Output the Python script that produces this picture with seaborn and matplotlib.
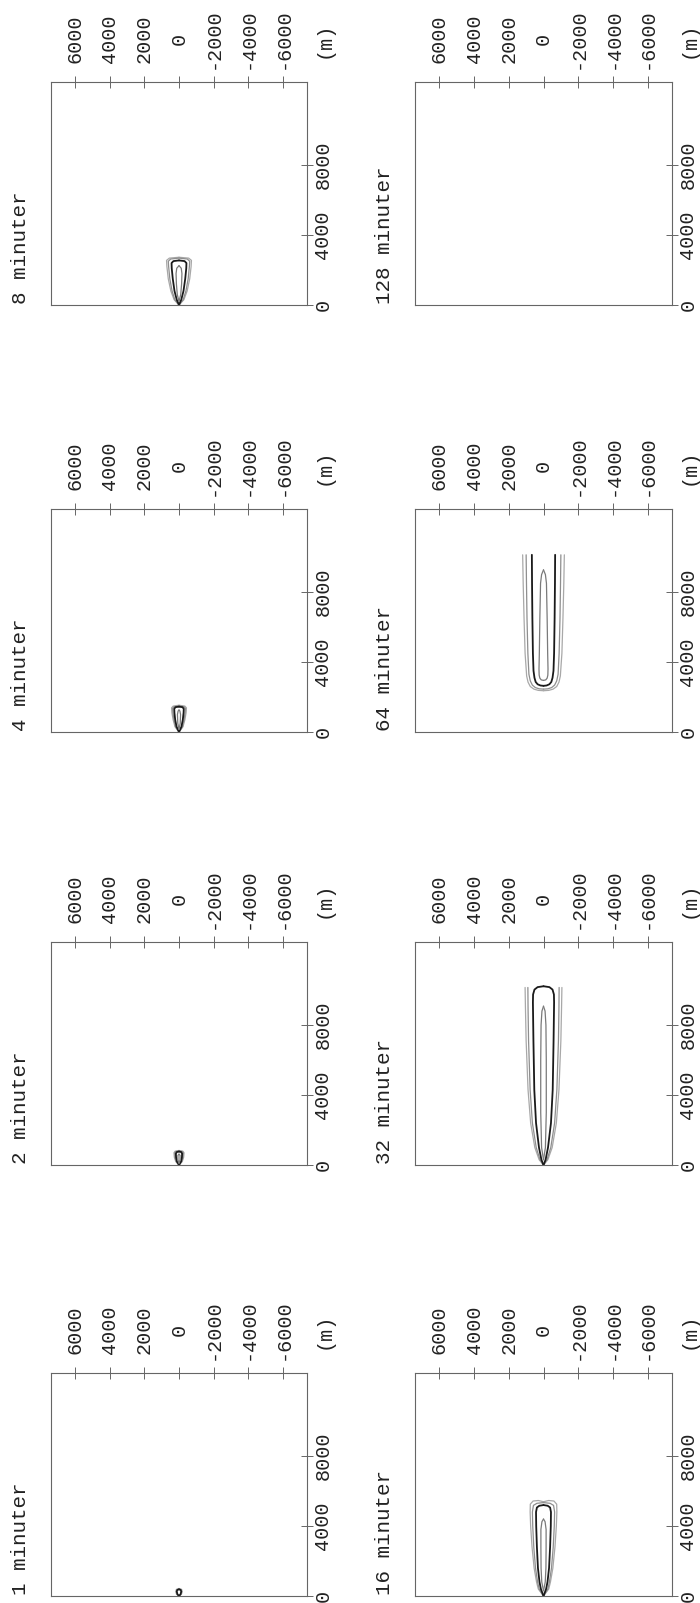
import numpy as np
import pandas as pd
import matplotlib
matplotlib.use("Agg")
import matplotlib.pyplot as plt
import seaborn as sns

# panel titles, left column (top to bottom) then right column
titles_left = ["8 minuter", "4 minuter", "2 minuter", "1 minuter"]
titles_right = ["128 minuter", "64 minuter", "32 minuter", "16 minuter"]

# axis ticks (crosswind on top, downwind on the right), metres
cross_ticks = [6000, 4000, 2000, 0, -2000, -4000, -6000]
cross_labels = ["6000", "4000", "2000", "0", "-2000", "-4000", "-6000"]
down_ticks = [0, 4000, 8000]
down_labels = ["0", "4000", "8000"]

# contour outlines: (level, downwind distance m, half width m)
plume_1 = [
    ("outer", [0, 100, 250, 380, 430], [0, 140, 190, 150, 0]),
    ("black", [0, 100, 250, 350, 380], [0, 90, 130, 100, 0]),
]
plume_2 = [
    ("outer", [0, 200, 450, 700, 790, 830], [0, 190, 270, 290, 220, 0]),
    ("second", [0, 200, 450, 680, 770, 800], [0, 160, 230, 250, 190, 0]),
    ("black", [0, 200, 450, 650, 740, 770], [0, 120, 170, 180, 130, 0]),
    ("inner", [100, 300, 550, 620], [0, 60, 60, 0]),
]
plume_4 = [
    ("outer", [0, 300, 700, 1100, 1380, 1480, 1530], [0, 230, 340, 410, 430, 340, 0]),
    ("second", [0, 300, 700, 1100, 1350, 1450, 1490], [0, 200, 295, 355, 370, 290, 0]),
    ("black", [0, 300, 700, 1100, 1330, 1420, 1450], [0, 140, 220, 265, 275, 200, 0]),
    ("inner", [150, 500, 1000, 1200, 1260], [0, 70, 90, 50, 0]),
]
plume_8 = [
    ("outer", [0, 300, 800, 1500, 2200, 2550, 2680, 2730], [0, 280, 470, 620, 700, 720, 560, 0]),
    ("second", [0, 300, 800, 1500, 2200, 2500, 2630, 2680], [0, 240, 400, 530, 600, 620, 480, 0]),
    ("black", [0, 300, 800, 1500, 2100, 2400, 2510, 2550], [0, 130, 260, 360, 420, 430, 320, 0]),
    ("inner", [200, 600, 1200, 1800, 2100, 2250], [0, 100, 150, 170, 130, 0]),
]
plume_16 = [
    ("outer", [0, 400, 800, 1600, 2800, 4000, 4800, 5250, 5430, 5460, 5390],
     [0, 300, 400, 540, 660, 740, 770, 760, 600, 300, 0]),
    ("second", [0, 400, 800, 1600, 2800, 4000, 4800, 5180, 5300, 5340],
     [0, 250, 340, 460, 560, 620, 640, 580, 380, 0]),
    ("black", [0, 400, 800, 1600, 2800, 4000, 4800, 5060, 5160, 5200],
     [0, 150, 230, 320, 380, 420, 430, 380, 240, 0]),
    ("inner", [300, 800, 1600, 2800, 3800, 4250, 4400], [0, 100, 140, 150, 150, 90, 0]),
]
plume_32 = [
    ("outer", [0, 300, 1000, 2400, 4300, 7100, 9000, 10150], [0, 250, 500, 740, 890, 1000, 1040, 1060]),
    ("second", [0, 300, 1000, 2400, 4300, 7100, 9000, 10150], [0, 200, 420, 640, 770, 860, 890, 900]),
    ("black", [0, 300, 1000, 2400, 4300, 7100, 9300, 9750, 10030, 10170, 10220],
     [0, 120, 260, 430, 530, 580, 610, 600, 520, 340, 0]),
    ("inner", [300, 1000, 3000, 6000, 8000, 8800, 9080], [0, 110, 160, 160, 140, 90, 0]),
]
plume_64 = [
    ("outer", [2360, 2380, 2450, 2600, 2850, 3200, 4500, 6500, 8500, 10130],
     [0, 300, 550, 760, 890, 970, 1060, 1120, 1170, 1200]),
    ("second", [2450, 2470, 2540, 2680, 2920, 3300, 4500, 6500, 8500, 10130],
     [0, 250, 470, 640, 760, 840, 900, 950, 980, 1000]),
    ("black", [2640, 2660, 2730, 2860, 3100, 3500, 4500, 6500, 8500, 10130],
     [0, 180, 340, 450, 520, 575, 610, 640, 660, 670]),
    ("inner", [2950, 2980, 3080, 3250, 3600, 4500, 6500, 8500, 9000, 9270],
     [0, 130, 210, 250, 260, 240, 210, 170, 110, 0]),
]
plume_128 = []

plumes_left = [plume_8, plume_4, plume_2, plume_1]
plumes_right = [plume_128, plume_64, plume_32, plume_16]

level_style = {
    "outer": ("#a8a8a8", 0.9),
    "second": ("#8e8e8e", 0.9),
    "black": ("#1a1a1a", 1.3),
    "inner": ("#7a7a7a", 0.9),
}

sns.set_theme(style="white")
plt.rcParams["font.family"] = ["Liberation Mono", "DejaVu Sans Mono"]

W, H = 700, 1603
fig = plt.figure(figsize=(W / 100, H / 100), dpi=100)
fig.patch.set_facecolor("white")

col_left = [51, 415]
col_width = [256, 257]
row_top = [82, 509, 942, 1373]
row_h = 223
txt = "#222222"
edge = "#666666"

for c, (titles, plumes) in enumerate([(titles_left, plumes_left), (titles_right, plumes_right)]):
    for r in range(4):
        ax = fig.add_axes([col_left[c] / W, 1 - (row_top[r] + row_h) / H,
                           col_width[c] / W, row_h / H])
        for level, dist, half in plumes[r]:
            dist = np.asarray(dist, float)
            half = np.asarray(half, float)
            df = pd.DataFrame({
                "cross": np.concatenate([half, -half]),
                "down": np.concatenate([dist, dist]),
                "side": ["a"] * len(dist) + ["b"] * len(dist),
            })
            col, lw = level_style[level]
            sns.lineplot(data=df, x="cross", y="down", units="side", estimator=None,
                         sort=False, color=col, linewidth=lw, ax=ax, legend=False)

        ax.set_xlim(7400, -7400)
        ax.set_ylim(0, 12750)
        ax.set_xlabel("")
        ax.set_ylabel("")
        for s in ax.spines.values():
            s.set_color(edge)
            s.set_linewidth(0.8)

        ax.xaxis.tick_top()
        ax.set_xticks(cross_ticks, labels=cross_labels, rotation=90, va="center", ha="center")
        ax.yaxis.tick_right()
        ax.set_yticks(down_ticks, labels=down_labels, rotation=90, va="center", ha="center")
        ax.tick_params(axis="x", direction="inout", length=8, width=0.7, color=edge,
                       pad=27, labelsize=14.5, labelcolor=txt)
        ax.tick_params(axis="y", direction="inout", length=8, width=0.7, color=edge,
                       pad=7.5, labelsize=14.5, labelcolor=txt)

        ax.text(1.065, 1.19, "(m)", rotation=90, ha="center", va="center",
                fontsize=14.5, color=txt, transform=ax.transAxes)
        ax.text(-0.12, 0.005, titles[r], rotation=90, ha="center", va="bottom",
                fontsize=15, color=txt, transform=ax.transAxes)

fig.savefig("out.png", dpi=100, facecolor="white")
